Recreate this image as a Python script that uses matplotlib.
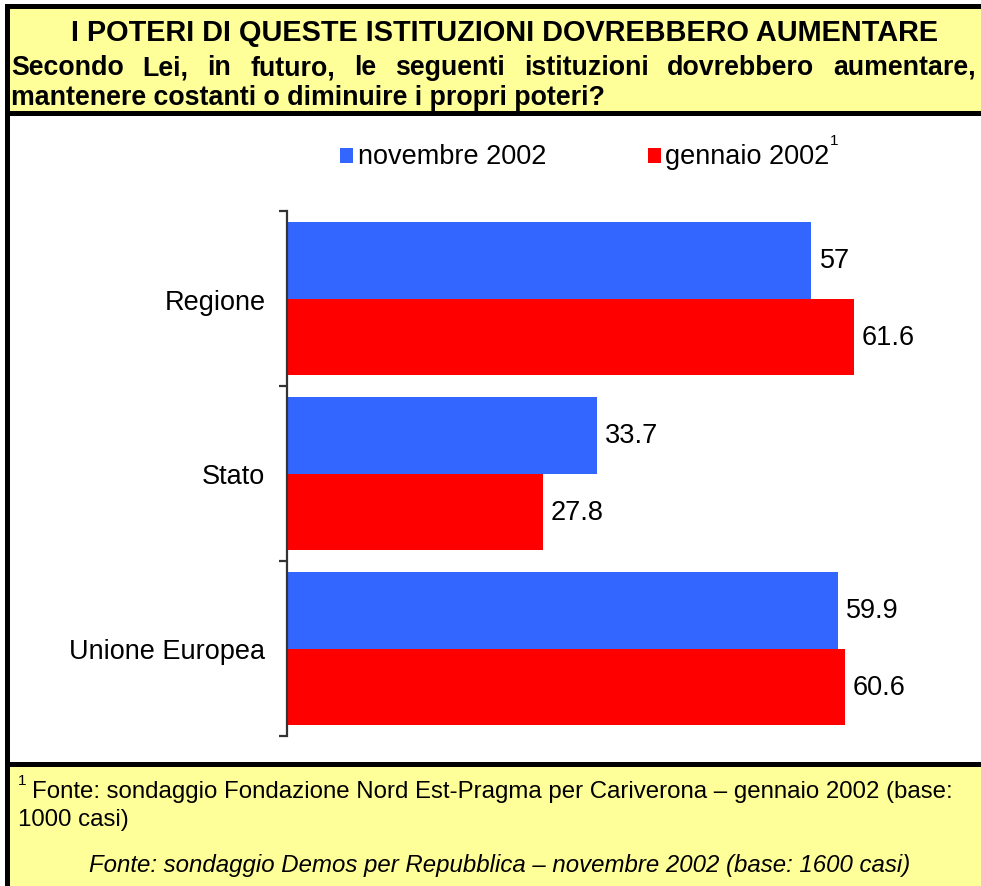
import matplotlib.pyplot as plt
from matplotlib.patches import Rectangle
import numpy as np

categories = ['Regione', 'Stato', 'Unione Europea']
nov_2002 = [57, 33.7, 59.9]
gen_2002 = [61.6, 27.8, 60.6]

title = "I POTERI DI QUESTE ISTITUZIONI DOVREBBERO AUMENTARE"
sub_line1 = "Secondo Lei, in futuro, le seguenti istituzioni dovrebbero aumentare,"
sub_line2 = "mantenere costanti o diminuire i propri poteri?"
note1 = "Fonte: sondaggio Fondazione Nord Est-Pragma per Cariverona \u2013 gennaio 2002 (base:"
note2 = "1000 casi)"
source = "Fonte: sondaggio Demos per Repubblica \u2013 novembre 2002 (base: 1600 casi)"

BLUE = '#3366FF'
RED = '#FF0000'
YELLOW = '#FFFF99'

plt.rcParams['font.family'] = ['Liberation Sans', 'DejaVu Sans']

W, H = 981, 887
fig = plt.figure(figsize=(W / 100, H / 100), dpi=100)
fig.patch.set_facecolor('white')


def fx(x):
    return x / W


def fy(y):
    return 1 - y / H


def box(x0, y0, x1, y1, color, z=-10):
    fig.patches.append(Rectangle((fx(x0), fy(y1)), fx(x1) - fx(x0), fy(y0) - fy(y1),
                                 transform=fig.transFigure, facecolor=color,
                                 edgecolor='none', zorder=z))


# frame pieces
box(5, 5, W, H, 'black', -12)
box(10, 10, W, 112, YELLOW, -11)
box(10, 117, W, 763, 'white', -11)
box(10, 768, W, H, YELLOW, -11)

# header
fig.text(fx(505), fy(33), title, ha='center', va='center', fontsize=20.8,
         fontweight='bold')

# justified first subtitle line
sub_fs = 19.3
words = sub_line1.split(' ')
renderer = fig.canvas.get_renderer()
tmp = [fig.text(0, 0, w, fontsize=sub_fs, fontweight='bold') for w in words]
widths = [t.get_window_extent(renderer).width for t in tmp]
for t in tmp:
    t.remove()
left, right = 11, 976
gap = (right - left - sum(widths)) / (len(words) - 1)
x = left
for w, wd in zip(words, widths):
    fig.text(fx(x), fy(68), w, ha='left', va='center', fontsize=sub_fs,
             fontweight='bold')
    x += wd + gap
fig.text(fx(11), fy(98), sub_line2, ha='left', va='center', fontsize=sub_fs,
         fontweight='bold')

# bar chart
ax_left, ax_right = 287, 960
ax_top, ax_bot = 212, 737
ax = fig.add_axes([fx(ax_left), fy(ax_bot), fx(ax_right) - fx(ax_left),
                   fy(ax_top) - fy(ax_bot)], zorder=1)
ax.set_facecolor('none')
px_per_unit = 9.2
ax.set_xlim(0, (ax_right - ax_left) / px_per_unit)
n = len(categories)
ax.set_ylim(n - 0.5, -0.5)
y = np.arange(n)
h = 0.437
ax.barh(y - h / 2, nov_2002, height=h, color=BLUE)
ax.barh(y + h / 2, gen_2002, height=h, color=RED)
for yi, v in zip(y, nov_2002):
    ax.text(v + 0.9, yi - h / 2, f'{v:g}', va='center', ha='left', fontsize=19.5)
for yi, v in zip(y, gen_2002):
    ax.text(v + 0.9, yi + h / 2, f'{v:g}', va='center', ha='left', fontsize=19.5)

for s in ['top', 'right', 'bottom']:
    ax.spines[s].set_visible(False)
ax.spines['left'].set_color('#333333')
ax.spines['left'].set_linewidth(1.6)
ax.set_xticks([])
ax.set_yticks(np.arange(n + 1) - 0.5)
ax.set_yticklabels([])
ax.tick_params(axis='y', length=6, width=1.6, color='#333333')
ax.set_yticks(y, minor=True)
ax.set_yticklabels(categories, minor=True, fontsize=19.5)
ax.tick_params(axis='y', which='minor', length=0, pad=15.5)

# legend
fig.patches.append(Rectangle((fx(340), fy(164)), fx(13), 15 / H,
                             transform=fig.transFigure, facecolor=BLUE,
                             edgecolor='none'))
fig.text(fx(358), fy(157), 'novembre 2002', ha='left', va='center', fontsize=19.5)
fig.patches.append(Rectangle((fx(648), fy(164)), fx(13), 15 / H,
                             transform=fig.transFigure, facecolor=RED,
                             edgecolor='none'))
fig.text(fx(665), fy(157), 'gennaio 2002', ha='left', va='center', fontsize=19.5)
fig.text(fx(830), fy(141), '1', ha='left', va='center', fontsize=11)

# footer
fig.text(fx(18), fy(781), '1', ha='left', va='center', fontsize=11)
fig.text(fx(32), fy(792), note1, ha='left', va='center', fontsize=17.3)
fig.text(fx(18), fy(820), note2, ha='left', va='center', fontsize=17.3)
fig.text(fx(500), fy(866), source, ha='center', va='center', fontsize=17.3,
         fontstyle='italic')

fig.savefig('out.png', dpi=100)
